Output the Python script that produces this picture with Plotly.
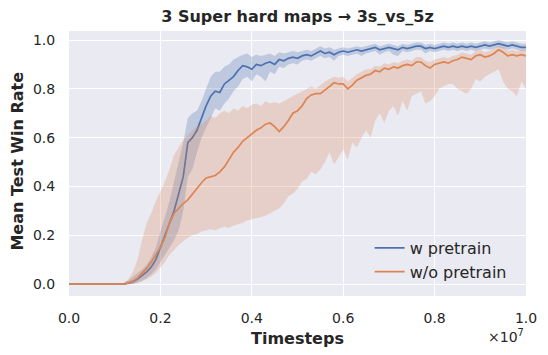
import plotly.graph_objects as go

# x grid in units of 1e7 timesteps
timesteps = [i / 100 for i in range(101)]

wp_mean = [
    0, 0, 0, 0, 0, 0, 0, 0, 0, 0,
    0, 0, 0, 0.004, 0.01, 0.02, 0.035, 0.05, 0.07, 0.10,
    0.15, 0.20, 0.245, 0.30, 0.37, 0.44, 0.58, 0.60, 0.63, 0.68,
    0.73, 0.77, 0.79, 0.785, 0.82, 0.835, 0.85, 0.875, 0.895, 0.89,
    0.88, 0.90, 0.895, 0.905, 0.91, 0.90, 0.92, 0.915, 0.925, 0.93,
    0.925, 0.935, 0.94, 0.935, 0.945, 0.955, 0.945, 0.95, 0.94, 0.95,
    0.955, 0.95, 0.955, 0.96, 0.955, 0.96, 0.965, 0.97, 0.96, 0.965,
    0.97, 0.965, 0.96, 0.97, 0.965, 0.97, 0.975, 0.975, 0.965, 0.97,
    0.965, 0.97, 0.975, 0.97, 0.975, 0.97, 0.975, 0.97, 0.975, 0.97,
    0.975, 0.98, 0.975, 0.98, 0.985, 0.98, 0.975, 0.98, 0.975, 0.97,
    0.97,
]
wp_lo = [
    0, 0, 0, 0, 0, 0, 0, 0, 0, 0,
    0, 0, 0, 0, 0, 0.005, 0.015, 0.025, 0.04, 0.06,
    0.09, 0.12, 0.15, 0.18, 0.22, 0.30, 0.44, 0.47, 0.54, 0.60,
    0.64, 0.68, 0.72, 0.71, 0.74, 0.76, 0.79, 0.81, 0.84, 0.85,
    0.83, 0.86, 0.85, 0.83, 0.87, 0.86, 0.89, 0.885, 0.90, 0.905,
    0.90, 0.915, 0.92, 0.915, 0.925, 0.935, 0.925, 0.93, 0.915, 0.935,
    0.94, 0.935, 0.94, 0.945, 0.935, 0.945, 0.95, 0.955, 0.94, 0.95,
    0.955, 0.94, 0.935, 0.955, 0.95, 0.955, 0.96, 0.96, 0.945, 0.955,
    0.95, 0.955, 0.96, 0.955, 0.96, 0.955, 0.96, 0.955, 0.96, 0.955,
    0.96, 0.965, 0.96, 0.965, 0.97, 0.965, 0.96, 0.965, 0.96, 0.955,
    0.955,
]
wp_hi = [
    0, 0, 0, 0, 0, 0, 0, 0, 0, 0,
    0, 0, 0.005, 0.015, 0.03, 0.045, 0.06, 0.08, 0.11, 0.15,
    0.21, 0.28, 0.34, 0.42, 0.50, 0.58, 0.68, 0.70, 0.71, 0.75,
    0.80, 0.85, 0.87, 0.87, 0.89, 0.90, 0.92, 0.93, 0.94, 0.945,
    0.93, 0.94, 0.935, 0.94, 0.945, 0.935, 0.95, 0.945, 0.95, 0.955,
    0.95, 0.955, 0.96, 0.955, 0.965, 0.975, 0.965, 0.97, 0.96, 0.965,
    0.97, 0.965, 0.97, 0.975, 0.97, 0.975, 0.98, 0.985, 0.975, 0.98,
    0.985, 0.98, 0.975, 0.985, 0.98, 0.985, 0.99, 0.99, 0.98, 0.985,
    0.98, 0.985, 0.99, 0.985, 0.99, 0.985, 0.99, 0.985, 0.99, 0.985,
    0.99, 0.995, 0.99, 0.995, 1.0, 0.995, 0.99, 0.995, 0.99, 0.985,
    0.985,
]

wop_mean = [
    0, 0, 0, 0, 0, 0, 0, 0, 0, 0,
    0, 0, 0, 0.005, 0.012, 0.025, 0.045, 0.065, 0.09, 0.12,
    0.15, 0.19, 0.25, 0.29, 0.31, 0.33, 0.345, 0.37, 0.395, 0.415,
    0.435, 0.44, 0.445, 0.46, 0.48, 0.51, 0.54, 0.56, 0.585, 0.60,
    0.615, 0.63, 0.64, 0.655, 0.66, 0.645, 0.625, 0.645, 0.67, 0.70,
    0.71, 0.73, 0.76, 0.775, 0.78, 0.78, 0.795, 0.81, 0.825, 0.82,
    0.82, 0.80, 0.815, 0.835, 0.845, 0.855, 0.86, 0.875, 0.87, 0.885,
    0.88, 0.89, 0.885, 0.895, 0.90, 0.895, 0.91, 0.91, 0.895, 0.885,
    0.90, 0.905, 0.91, 0.905, 0.915, 0.92, 0.93, 0.925, 0.92, 0.935,
    0.94, 0.93, 0.935, 0.945, 0.96, 0.95, 0.935, 0.94, 0.935, 0.94,
    0.935,
]
wop_lo = [
    0, 0, 0, 0, 0, 0, 0, 0, 0, 0,
    0, 0, 0, 0, 0, 0.005, 0.01, 0.02, 0.03, 0.045,
    0.065, 0.09, 0.12, 0.14, 0.16, 0.175, 0.19, 0.20, 0.205, 0.215,
    0.22, 0.225, 0.22, 0.23, 0.235, 0.23, 0.24, 0.245, 0.25, 0.26,
    0.265, 0.27, 0.275, 0.28, 0.29, 0.30, 0.31, 0.33, 0.36, 0.37,
    0.39, 0.42, 0.43, 0.46, 0.45, 0.47, 0.50, 0.54, 0.49, 0.52,
    0.55, 0.51, 0.58, 0.56, 0.60, 0.63, 0.60, 0.67, 0.70, 0.66,
    0.71, 0.73, 0.69, 0.75, 0.71, 0.77, 0.78, 0.79, 0.74, 0.75,
    0.77, 0.80, 0.81, 0.82, 0.82, 0.80, 0.79, 0.78, 0.80, 0.84,
    0.83, 0.85, 0.86, 0.87, 0.88, 0.83, 0.80, 0.79, 0.77, 0.83,
    0.80,
]
wop_hi = [
    0, 0, 0, 0, 0, 0, 0, 0, 0, 0,
    0, 0, 0.005, 0.02, 0.05, 0.10, 0.18, 0.25, 0.29, 0.34,
    0.38, 0.42, 0.47, 0.53, 0.56, 0.59, 0.61, 0.63, 0.645, 0.655,
    0.67, 0.69, 0.68, 0.70, 0.71, 0.70, 0.72, 0.71, 0.73, 0.72,
    0.735, 0.74, 0.73, 0.75, 0.74, 0.745, 0.74, 0.75, 0.76, 0.77,
    0.78, 0.79, 0.80, 0.81, 0.80, 0.815, 0.83, 0.84, 0.85, 0.845,
    0.85, 0.83, 0.845, 0.86, 0.87, 0.88, 0.88, 0.895, 0.89, 0.905,
    0.90, 0.91, 0.905, 0.915, 0.92, 0.915, 0.93, 0.93, 0.915, 0.91,
    0.92, 0.925, 0.93, 0.925, 0.935, 0.94, 0.95, 0.945, 0.94, 0.955,
    0.96, 0.95, 0.955, 0.965, 0.975, 0.97, 0.955, 0.96, 0.955, 0.96,
    0.955,
]

x_ticks = [0.0, 0.2, 0.4, 0.6, 0.8, 1.0]
x_tick_labels = ["0.0", "0.2", "0.4", "0.6", "0.8", "1.0"]
y_ticks = [0.0, 0.2, 0.4, 0.6, 0.8, 1.0]
y_tick_labels = ["0.0", "0.2", "0.4", "0.6", "0.8", "1.0"]
series_names = ["w pretrain", "w/o pretrain"]

BLUE = "#4C72B0"
ORANGE = "#DD8452"
FONT = "DejaVu Sans"
TXT = "#262626"

fig = go.Figure()


def add_series(mean, lo, hi, color, fill, name):
    fig.add_trace(go.Scatter(
        x=timesteps + timesteps[::-1], y=hi + lo[::-1],
        fill="toself", fillcolor=fill, line=dict(width=0),
        mode="lines", hoverinfo="skip", showlegend=False))
    fig.add_trace(go.Scatter(
        x=timesteps, y=mean, mode="lines", name=name,
        line=dict(color=color, width=1.7)))


add_series(wp_mean, wp_lo, wp_hi, BLUE, "rgba(76,114,176,0.28)", series_names[0])
add_series(wop_mean, wop_lo, wop_hi, ORANGE, "rgba(221,132,82,0.26)", series_names[1])

# page has an 8px body margin: figure coords = page coords - 8
OFF = 8
W, H = 548 - OFF, 355 - OFF
ml, mt = 69 - OFF, 31 - OFF
plot_right, plot_bottom = 526.5 - OFF, 296 - OFF
mr, mb = W - plot_right, H - plot_bottom
pw, ph = W - ml - mr, H - mt - mb


def px_x(x):  # page pixel -> paper x
    return (x - OFF - ml) / pw


def px_y(y):  # page pixel -> paper y
    return (plot_bottom - (y - OFF)) / ph


fig.update_layout(
    width=W, height=H,
    margin=dict(l=ml, r=mr, t=mt, b=mb, autoexpand=False),
    paper_bgcolor="white", plot_bgcolor="#EAEAF2",
    font=dict(family=FONT, color=TXT, size=14),
    title=dict(text="<b>3 Super hard maps → 3s_vs_5z</b>",
               font=dict(family=FONT, size=16, color=TXT),
               x=0.5, xref="paper", xanchor="center",
               y=(H - (16 - OFF)) / H, yref="container", yanchor="middle"),
    xaxis=dict(range=[0, 1.0], tickvals=x_ticks, ticktext=x_tick_labels,
               showgrid=True, gridcolor="white", gridwidth=1.2,
               zeroline=False, showline=False, automargin=False,
               ticks="outside", ticklen=9, tickcolor="rgba(0,0,0,0)",
               tickfont=dict(size=14, color=TXT)),
    yaxis=dict(range=[-0.049, 1.037], tickvals=y_ticks, ticktext=y_tick_labels,
               showgrid=True, gridcolor="white", gridwidth=1.2,
               zeroline=False, showline=False, automargin=False,
               ticks="outside", ticklen=10, tickcolor="rgba(0,0,0,0)",
               tickfont=dict(size=14, color=TXT)),
    legend=dict(x=px_x(370), xanchor="left",
                y=px_y(260), yanchor="middle",
                bgcolor="rgba(0,0,0,0)", borderwidth=0,
                font=dict(family=FONT, size=16, color=TXT)),
    showlegend=True,
)

fig.add_annotation(text="<b>Mean Test Win Rate</b>", xref="paper", yref="paper",
                   x=px_x(16.5), y=px_y(161), xanchor="center", yanchor="middle",
                   textangle=-90, showarrow=False, font=dict(size=16, color=TXT, family=FONT))
fig.add_annotation(text="<b>Timesteps</b>", xref="paper", yref="paper",
                   x=0.5, y=px_y(338), xanchor="center", yanchor="middle",
                   showarrow=False, font=dict(size=16, color=TXT, family=FONT))
fig.add_annotation(text="×10<sup>7</sup>", xref="paper", yref="paper",
                   x=1.0, y=px_y(336), xanchor="right", yanchor="middle",
                   showarrow=False, font=dict(size=14, color=TXT, family=FONT))

fig.write_html("out.html")
